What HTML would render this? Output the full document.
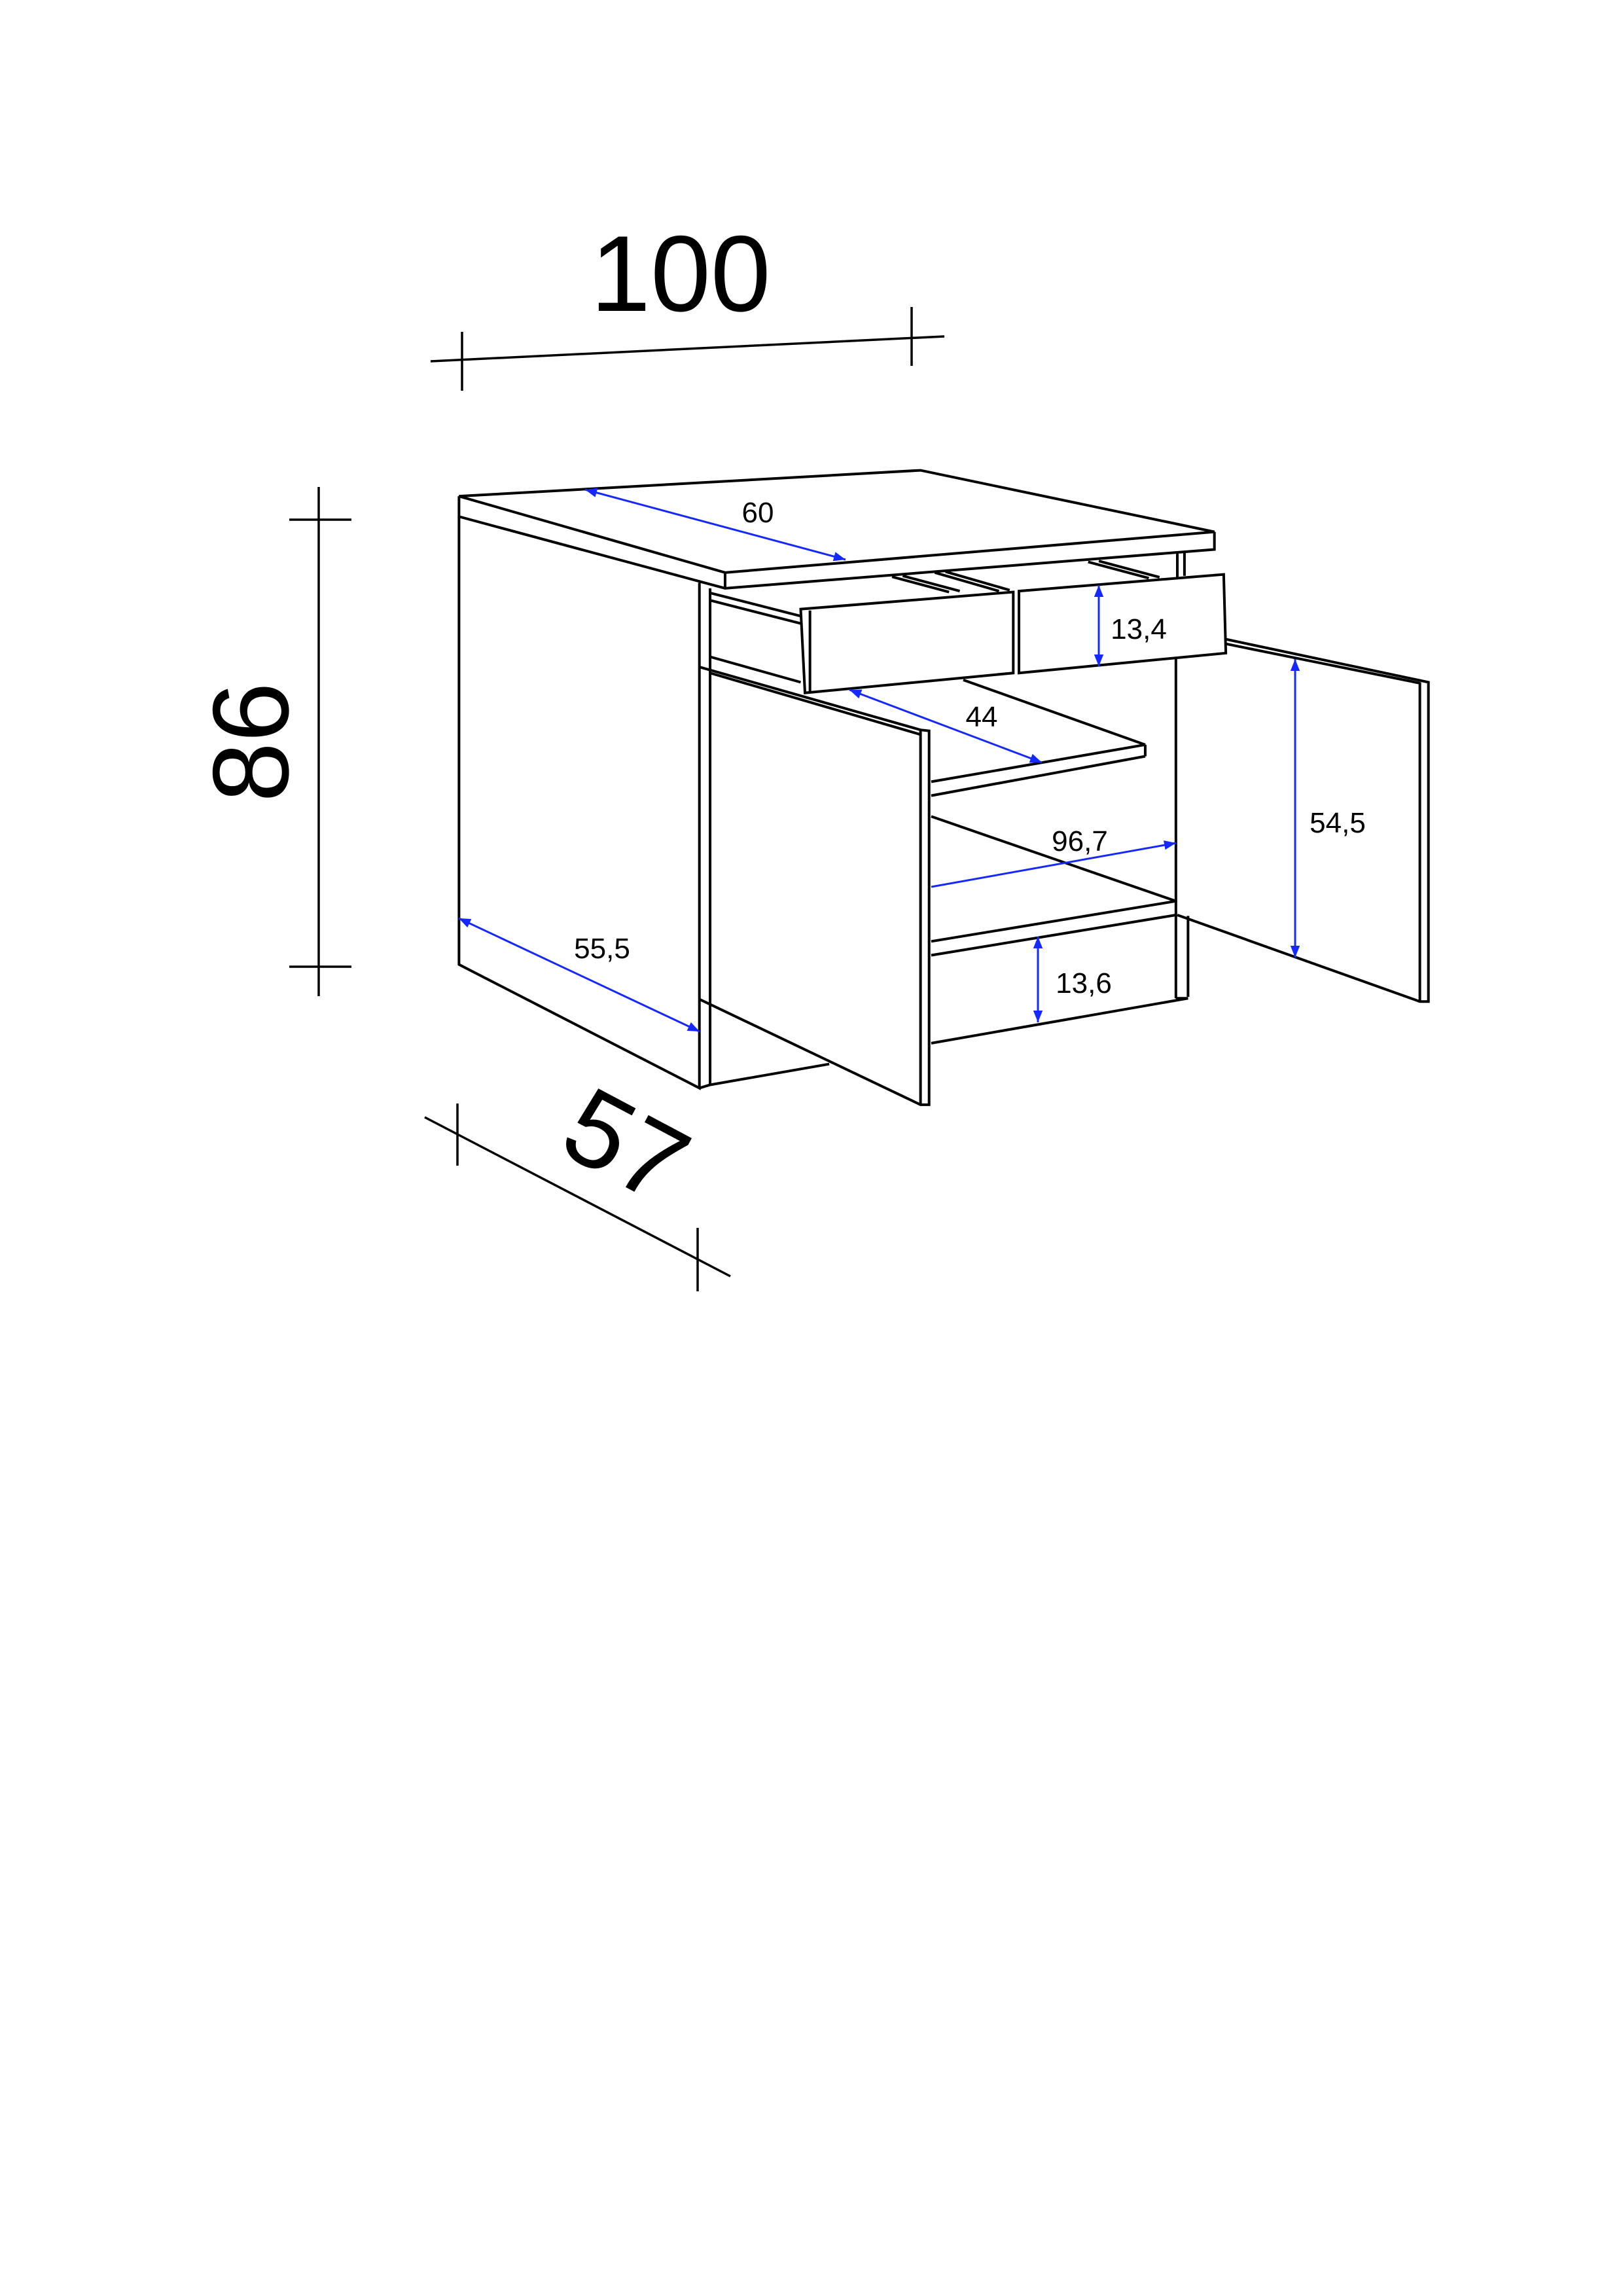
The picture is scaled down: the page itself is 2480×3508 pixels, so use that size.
<!DOCTYPE html>
<html><head><meta charset="utf-8"><style>
html,body{margin:0;padding:0;background:#fff}
svg{display:block}
text{font-family:"Liberation Sans",Arial,sans-serif;fill:#000}
</style></head><body>
<svg width="2480" height="3508" viewBox="0 0 2480 3508" xmlns="http://www.w3.org/2000/svg">
<defs>
<marker id="a" viewBox="0 0 10 10" refX="10" refY="5" markerWidth="11" markerHeight="6" orient="auto-start-reverse" markerUnits="strokeWidth">
<path d="M0,1 L10,5 L0,9 z" fill="#1428ff"/></marker>
</defs>
<rect width="2480" height="3508" fill="#fff"/>
<g stroke="#000" stroke-width="3.5" fill="none">
<line x1="658" y1="552" x2="1443" y2="514"/>
<line x1="706" y1="507" x2="706" y2="597"/>
<line x1="1393" y1="469" x2="1393" y2="559"/>
<line x1="487" y1="744" x2="487" y2="1522"/>
<line x1="442" y1="794" x2="537" y2="794"/>
<line x1="442" y1="1477" x2="537" y2="1477"/>
<line x1="649" y1="1707" x2="1116" y2="1950"/>
<line x1="699" y1="1686" x2="699" y2="1781"/>
<line x1="1066" y1="1876" x2="1066" y2="1973"/>
</g>
<text x="1040" y="475" font-size="165" text-anchor="middle">100</text>
<text transform="translate(440,1134) rotate(-90)" font-size="165" text-anchor="middle">86</text>
<text transform="translate(930,1800) rotate(28)" font-size="165" text-anchor="middle">57</text>
<g transform="translate(600,650) scale(1.09,0.707)" stroke="#000" stroke-width="4" fill="none">
<polygon points="93,153 740,97 1152,230 466,318" vector-effect="non-scaling-stroke"/>
<polyline points="93,153 93,197 466,352 1152,268 1152,230" vector-effect="non-scaling-stroke"/>
<line x1="466" y1="318" x2="466" y2="352" vector-effect="non-scaling-stroke"/>
<polyline points="93,197 93,1165 430,1432 430,340" vector-effect="non-scaling-stroke"/>
<line x1="445" y1="352" x2="445" y2="1425" vector-effect="non-scaling-stroke"/>
<line x1="430" y1="1432" x2="445" y2="1425" vector-effect="non-scaling-stroke"/>
<line x1="445" y1="1425" x2="612" y2="1380" vector-effect="non-scaling-stroke"/>
<line x1="445" y1="362" x2="572" y2="412" vector-effect="non-scaling-stroke"/>
<line x1="445" y1="378" x2="572" y2="428" vector-effect="non-scaling-stroke"/>
<line x1="445" y1="500" x2="572" y2="555" vector-effect="non-scaling-stroke"/>
<polygon points="572,397 870,360 870,535 578,578" vector-effect="non-scaling-stroke"/>
<line x1="585" y1="400" x2="585" y2="576" vector-effect="non-scaling-stroke"/>
<line x1="700" y1="327" x2="780" y2="360" vector-effect="non-scaling-stroke"/>
<line x1="715" y1="325" x2="795" y2="358" vector-effect="non-scaling-stroke"/>
<line x1="760" y1="318" x2="850" y2="358" vector-effect="non-scaling-stroke"/>
<line x1="775" y1="316" x2="865" y2="356" vector-effect="non-scaling-stroke"/>
<polygon points="878,358 1165,322 1168,492 878,535" vector-effect="non-scaling-stroke"/>
<line x1="975" y1="295" x2="1060" y2="330" vector-effect="non-scaling-stroke"/>
<line x1="990" y1="293" x2="1075" y2="328" vector-effect="non-scaling-stroke"/>
<line x1="1100" y1="272" x2="1100" y2="330" vector-effect="non-scaling-stroke"/>
<line x1="1110" y1="272" x2="1110" y2="325" vector-effect="non-scaling-stroke"/>
<line x1="1098" y1="505" x2="1098" y2="1238" vector-effect="non-scaling-stroke"/>
<line x1="1115" y1="1060" x2="1115" y2="1235" vector-effect="non-scaling-stroke"/>
<line x1="800" y1="550" x2="1055" y2="690" vector-effect="non-scaling-stroke"/>
<line x1="755" y1="770" x2="1055" y2="690" vector-effect="non-scaling-stroke"/>
<line x1="755" y1="800" x2="1055" y2="715" vector-effect="non-scaling-stroke"/>
<line x1="1055" y1="690" x2="1055" y2="715" vector-effect="non-scaling-stroke"/>
<polyline points="430,522 740,658 752,660 752,1468 740,1468 430,1240" vector-effect="non-scaling-stroke"/>
<line x1="445" y1="535" x2="740" y2="668" vector-effect="non-scaling-stroke"/>
<line x1="740" y1="660" x2="740" y2="1468" vector-effect="non-scaling-stroke"/>
<line x1="755" y1="845" x2="1098" y2="1028" vector-effect="non-scaling-stroke"/>
<line x1="755" y1="1115" x2="1098" y2="1028" vector-effect="non-scaling-stroke"/>
<line x1="755" y1="1145" x2="1098" y2="1058" vector-effect="non-scaling-stroke"/>
<line x1="755" y1="1335" x2="1115" y2="1238" vector-effect="non-scaling-stroke"/>
<line x1="1098" y1="1238" x2="1115" y2="1238" vector-effect="non-scaling-stroke"/>
<polyline points="1168,462 1452,555 1452,1245 1440,1245 1100,1058" vector-effect="non-scaling-stroke"/>
<line x1="1168" y1="472" x2="1440" y2="557" vector-effect="non-scaling-stroke"/>
<line x1="1440" y1="555" x2="1440" y2="1245" vector-effect="non-scaling-stroke"/>
</g>
<g stroke="#1428ff" stroke-width="3" marker-start="url(#a)" marker-end="url(#a)">
<line x1="894" y1="748" x2="1292" y2="855"/>
<line x1="1679" y1="894" x2="1679" y2="1018"/>
<line x1="1298" y1="1054" x2="1592" y2="1165"/>
<line x1="1423" y1="1355" x2="1797" y2="1288" marker-start="none"/>
<line x1="1979" y1="1007" x2="1979" y2="1463"/>
<line x1="701" y1="1403" x2="1069" y2="1576"/>
<line x1="1586" y1="1431" x2="1586" y2="1562"/>
</g>
<g font-size="44" text-anchor="middle">
<text x="1158" y="798">60</text>
<text x="1740" y="976">13,4</text>
<text x="1500" y="1110">44</text>
<text x="1650" y="1300">96,7</text>
<text x="2044" y="1272">54,5</text>
<text x="920" y="1464">55,5</text>
<text x="1656" y="1517">13,6</text>
</g>
</svg>
</body></html>
